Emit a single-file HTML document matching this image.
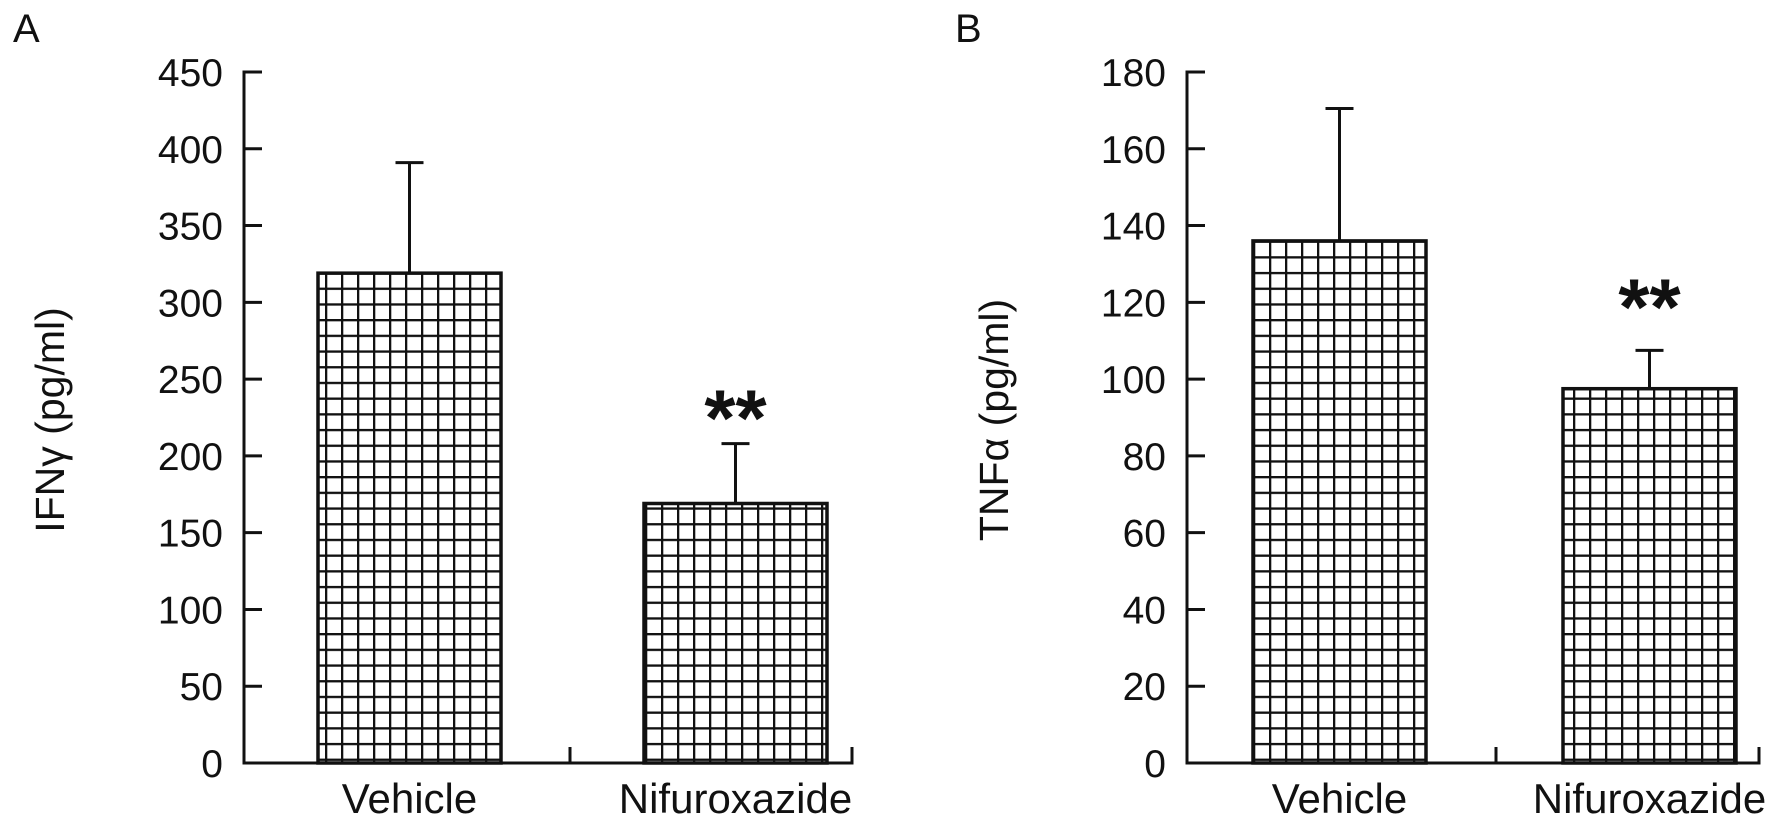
<!DOCTYPE html>
<html><head><meta charset="utf-8"><style>
html,body{margin:0;padding:0;background:#fff;}
svg{display:block;font-family:"Liberation Sans",Arial,sans-serif;}
</style></head><body>
<svg id="chart" width="1775" height="837" viewBox="0 0 1775 837" xmlns="http://www.w3.org/2000/svg">
<defs>
<pattern id="gridA" patternUnits="userSpaceOnUse" width="16" height="15.7" x="5" y="5">
<rect width="16" height="15.7" fill="#fff"/>
<path d="M0 0H16M0 0V15.7" stroke="#111" stroke-width="4.6" fill="none"/>
</pattern>
</defs>
<g id="layer"></g>
</svg>
<script>
const categories = ["Vehicle", "Nifuroxazide"];
const ifnValues = [319, 169];
const ifnErrors = [72, 39];
const ifnTicks = [0, 50, 100, 150, 200, 250, 300, 350, 400, 450];
const tnfValues = [136, 97.5];
const tnfErrors = [34.5, 10];
const tnfTicks = [0, 20, 40, 60, 80, 100, 120, 140, 160, 180];
const sigLabels = ["", "**"];

const NS = "http://www.w3.org/2000/svg";
const layer = document.getElementById("layer");
function mk(tag, attrs, parent) {
  const e = document.createElementNS(NS, tag);
  for (const k in attrs) e.setAttribute(k, attrs[k]);
  (parent || layer).appendChild(e);
  return e;
}

function panel(cfg) {
  const g = mk("g", {});
  
  
  const y0 = 763, y1 = 72;
  const maxV = cfg.ticks[cfg.ticks.length - 1];
  const yScale = v => y0 - (v / maxV) * (y0 - y1);
  const ax = cfg.axisX;
  const yAxis = mk("line", {x1: ax, y1: y1 - 1.5, x2: ax, y2: y0 + 1.5, stroke: "#111", "stroke-width": 3}, g);
  
  
  cfg.ticks.forEach(t => {
    const y = yScale(t);
    const tk = mk("line", {x1: ax, y1: y, x2: ax + 18, y2: y, stroke: "#111", "stroke-width": 3}, g);
    
    
    const lb = mk("text", {x: ax - 21, y: y + 14, "text-anchor": "end", "font-size": 39, fill: "#111"}, g);
    
    
    lb.textContent = t;
  });
  const xAxis = mk("line", {x1: ax - 1.5, y1: y0, x2: cfg.axisEnd + 1.5, y2: y0, stroke: "#111", "stroke-width": 3}, g);
  
  
  [cfg.midTick, cfg.axisEnd].forEach(x => {
    const tk = mk("line", {x1: x, y1: y0, x2: x, y2: y0 - 16, stroke: "#111", "stroke-width": 3}, g);
    
    
  });
  categories.forEach((c, i) => {
    const bx = cfg.barX[i], bw = cfg.barW;
    const top = yScale(cfg.values[i]);
    const cx = bx + bw / 2;
    const errTop = yScale(cfg.values[i] + cfg.errors[i]);
    const el = mk("line", {x1: cx, y1: top, x2: cx, y2: errTop, stroke: "#111", "stroke-width": 3}, g);
    
    
    const cap = mk("line", {x1: cx - 14, y1: errTop, x2: cx + 14, y2: errTop, stroke: "#111", "stroke-width": 3}, g);
    
    
    const r = mk("rect", {x: bx, y: top, width: bw, height: y0 - top, fill: "url(#gridA)", stroke: "#111", "stroke-width": 3.5}, g);
    
    
    const lb = mk("text", {x: cx, y: 813, "text-anchor": "middle", "font-size": 42, fill: "#111"}, g);
    
    
    lb.textContent = c;
    if (sigLabels[i]) {
      const s = mk("text", {x: cx, y: errTop + cfg.starOff, "text-anchor": "middle", "font-size": 80, "font-weight": "bold", fill: "#111"}, g);
      
      
      s.textContent = sigLabels[i];
    }
  });
  const tt = mk("text", {x: 0, y: 0, transform: `translate(${cfg.titleX},420) rotate(-90)`, "text-anchor": "middle", "font-size": 41, fill: "#111"}, g);
  
  
  tt.innerHTML = cfg.title;
  const pl = mk("text", {x: cfg.letterX, y: 42, "font-size": 40, fill: "#111"}, g);
  
  
  pl.textContent = cfg.letter;
}

panel({name: "panel-a-ifn", ticks: ifnTicks, values: ifnValues, errors: ifnErrors, axisX: 244, axisEnd: 852, midTick: 570,
  barX: [318, 644], barW: 183, starOff: 2, titleX: 64, title: "IFN&#947; (pg/ml)", letter: "A", letterX: 13});
panel({name: "panel-b-tnf", ticks: tnfTicks, values: tnfValues, errors: tnfErrors, axisX: 1187, axisEnd: 1759, midTick: 1496,
  barX: [1253, 1563], barW: 173, starOff: -16, titleX: 1008, title: "TNF&#945; (pg/ml)", letter: "B", letterX: 955});
</script>
</body></html>
